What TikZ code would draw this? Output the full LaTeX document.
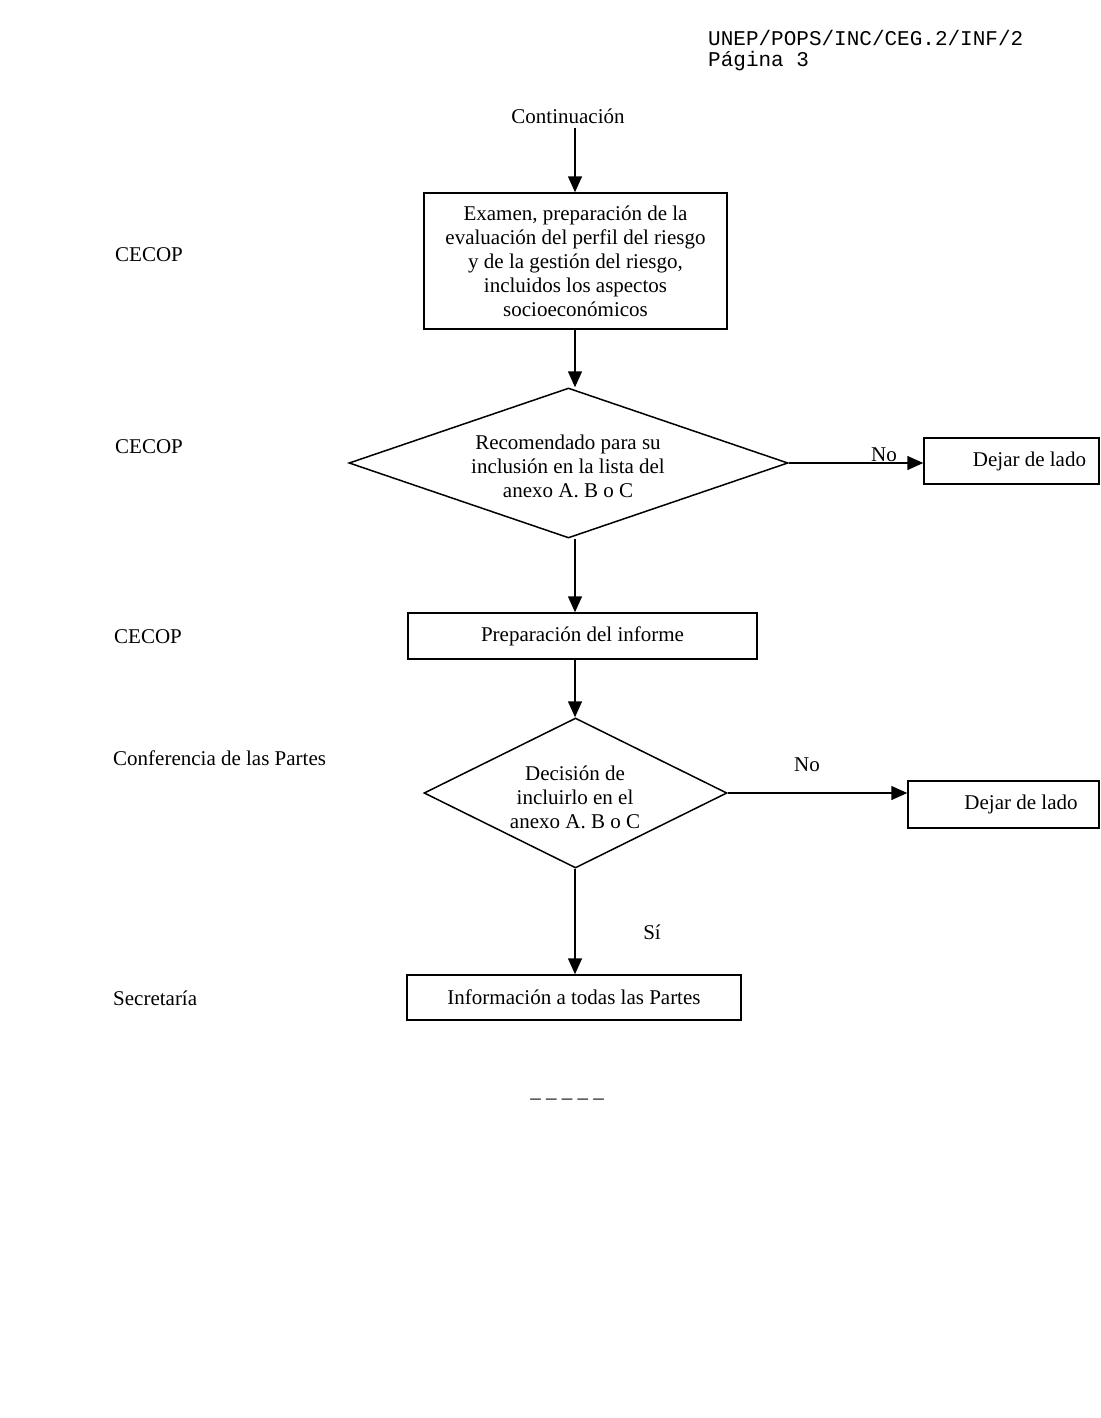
\documentclass[tikz,border=0pt]{standalone}
\usepackage{fontspec}
\setmainfont{Liberation Serif}
\newfontfamily\hdrfont{Liberation Mono}
\usetikzlibrary{arrows.meta,shapes.geometric}
\begin{document}
\begin{tikzpicture}[x=1pt,y=-1pt,
  every node/.style={font=\fontsize{21}{24}\selectfont},
  procbox/.style={draw,line width=1.5pt,rectangle,inner sep=0pt,align=center},
  decis/.style={draw,line width=1.5pt,diamond,inner sep=0pt,minimum width=#1,minimum height=150pt},
  flow/.style={line width=1.5pt,-{Triangle[length=16pt,width=14pt]}},
  lefttag/.style={anchor=west,inner sep=0pt},
  hdr/.style={anchor=base west,inner sep=0pt,font=\hdrfont\fontsize{21}{21}\selectfont}]
\useasboundingbox (0,0) rectangle (1100,1418);
\fill[white] (0,0) rectangle (1100,1418);

% header
\node[hdr] (h1) at (708,46) {UNEP/POPS/INC/CEG.2/INF/2};
\node[hdr] (h2) at (708,67) {Página 3};

% axis for vertical connectors
\coordinate (axis) at (575,0);

% main column
\node[inner sep=0pt] (cont) at (568,116) {Continuación};
\node[procbox,minimum width=303pt,minimum height=136pt] (b1) at (575.5,261)
  {Examen, preparación de la\\evaluación del perfil del riesgo\\y de la gestión del riesgo,\\incluidos los aspectos\\socioeconómicos};
\node[decis=439pt] (d1) at (568.5,463) {};
\node[align=center,inner sep=0pt] (d1t) at (568,466) {Recomendado para su\\inclusión en la lista del\\anexo A. B o C};
\node[procbox,minimum width=175pt,minimum height=46pt] (x1) at (1011.5,461) {\hspace*{36pt}Dejar de lado};
\node[procbox,minimum width=349pt,minimum height=46pt] (b2) at (582.5,636) {Preparación del informe};
\node[decis=303pt] (d2) at (575.5,793) {};
\node[align=center,inner sep=0pt] (d2t) at (575,797) {Decisión de\\incluirlo en el\\anexo A. B o C};
\node[procbox,minimum width=191pt,minimum height=47pt] (x2) at (1003.5,804.5) {\hspace*{35pt}Dejar de lado};
\node[procbox,minimum width=334pt,minimum height=45pt] (b4) at (574,997.5) {Información a todas las Partes};

% labels
\node[inner sep=0pt] (no1) at (884,455) {No};
\node[inner sep=0pt] (no2) at (807,765) {No};
\node[inner sep=0pt] (si) at (652,932) {Sí};

% left column
\node[lefttag] (l1) at (115,255) {CECOP};
\node[lefttag] (l2) at (115,447) {CECOP};
\node[lefttag] (l3) at (114,637) {CECOP};
\node[lefttag] (l4) at (113,758) {Conferencia de las Partes};
\node[lefttag] (l5) at (113,998) {Secretaría};

% end dashes
\node[inner sep=0pt] (dash) at (567,1102) {– – – – –};

% connectors
\draw[flow] (cont.south -| axis) ++(0,4) -- (b1.north -| axis);
\draw[flow] (b1.south -| axis) -- (d1.north -| axis);
\draw[flow] (d1.south -| axis) -- (b2.north -| axis);
\draw[flow] (b2.south -| axis) -- (d2.north -| axis);
\draw[flow] (d2.south -| axis) -- (b4.north -| axis);
\draw[flow] (d1.east) -- (d1.east -| x1.west);
\draw[flow] (d2.east) -- (d2.east -| x2.west);
\end{tikzpicture}
\end{document}
